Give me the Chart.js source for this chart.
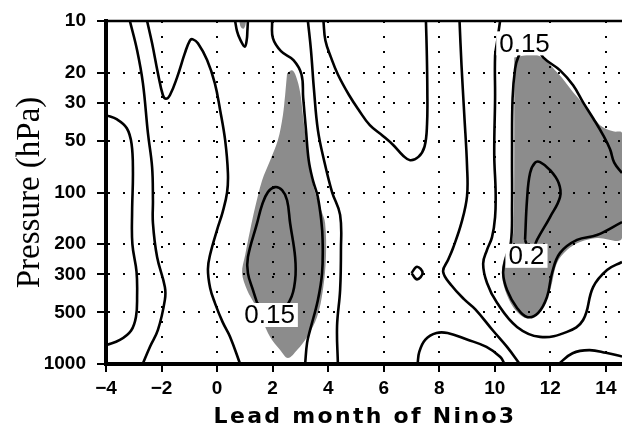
<!DOCTYPE html>
<html>
<head>
<meta charset="utf-8">
<script src="https://cdn.jsdelivr.net/npm/chart.js@4.4.1/dist/chart.umd.min.js"></script>
<style>
  html, body { margin: 0; padding: 0; background: #fff; }
  #wrap { width: 622px; height: 427px; }
</style>
</head>
<body>
<div id="wrap"><canvas id="chart"></canvas></div>
<script>
/* ---------- axes ---------- */
const xTicks = [-4, -2, 0, 2, 4, 6, 8, 10, 12, 14];
const yTicks = [10, 20, 30, 50, 100, 200, 300, 500, 1000];

/* ---------- contour lines, [lead month, hPa] ---------- */
const lineA = [[-4,35.4],[-3.6,37.5],[-3.25,42.2],[-3.08,52],[-3.03,76],[-3.06,130],[-3.05,200],[-2.9,290],[-2.88,400],[-2.92,530],[-3.1,640],[-3.5,724],[-4,776]];
const lineB = [[-3.14,10],[-2.88,14.8],[-2.67,23.1],[-2.49,45.1],[-2.34,71.1],[-2.31,110.7],[-2.31,150.8],[-2.16,237.9],[-1.88,355.6],[-1.88,423],[-2.13,633],[-2.42,795],[-2.68,1000]];
const lineC = [[-2.52,10],[-2.34,13.5],[-2.13,20.2],[-1.95,27.1],[-1.84,28.4],[-1.7,27.1],[-1.44,21.3],[-1.16,15.4],[-0.98,13],[-0.87,12.8],[-0.69,13.5],[-0.36,16.9],[-0.08,23.1],[0.11,33.1],[0.29,49.5],[0.39,77.1],[0.36,100],[0.2,130],[0,165],[-0.25,230],[-0.33,280],[-0.25,360],[-0.08,440],[0.2,570],[0.47,695],[0.83,1000]];
const lineD = [[0.65,10],[0.72,11.5],[0.83,12.8],[1.0,14.1],[1.07,12.8],[1.09,11.5],[1.11,10]];
const lineE = [[1.98,10],[2.01,12.6],[2.3,15],[2.75,16.9],[3.04,20.5],[3.1,28],[3.2,43],[3.3,65],[3.45,85],[3.62,105],[3.75,145],[3.8,190],[3.78,295],[3.63,423],[3.35,633],[3.24,753],[3.17,1000]];
const lineF = [[3.27,10],[3.38,14.8],[3.49,25.3],[3.63,43.3],[3.85,64.8],[4.14,99.5],[4.43,135],[4.46,216.6],[4.43,370],[4.32,600],[4.35,1000]];
const lineH = [[3.83,10],[3.9,13],[4.1,16.3],[4.35,20.5],[4.75,27],[5.1,33],[5.5,40.5],[5.95,46.5],[6.35,53],[6.7,61],[6.95,64.8],[7.25,62],[7.47,54],[7.56,40],[7.57,25],[7.55,15],[7.52,10]];
const lineI = [[8.73,10],[8.8,18],[8.9,35],[9.0,70],[9.0,105],[8.8,150],[8.5,210],[8.32,247],[8.14,290],[8.45,350],[8.9,420],[9.3,480],[9.94,640],[10.44,795],[10.9,1000]];
const lineJ = [[10.19,10],[10.08,13.3],[10.01,16],[10.01,28],[9.98,60],[10.03,100],[10.01,139],[9.9,182],[9.72,216],[9.58,260],[9.72,337],[10.08,440],[10.8,608],[11.63,695],[12.6,650],[13.18,554],[13.54,356],[14.04,283],[14.58,254]];
const lineM = [[7.22,1000],[7.28,850],[7.5,720],[7.9,660],[8.3,660],[9.0,720],[9.7,795],[10.2,910],[10.35,1000]];
const lineN = [[12.3,1000],[12.8,865],[13.4,830],[14.0,860],[14.58,905]];
const loopSmall = [[7.0,295],[7.2,271],[7.4,295],[7.2,321],[7.0,295]];
const line15R = [[14.58,148.7],[13.68,177],[12.96,189],[12.35,225],[12.06,295],[11.88,407],[11.56,504],[11.16,532],[10.8,471],[10.44,370],[10.3,295],[10.4,240],[10.58,195],[10.62,120],[10.62,60],[10.64,28.2],[10.73,19],[10.84,16.3],[11.1,14],[11.5,14],[11.74,16.3],[12.35,19.4],[12.82,23.7],[13.18,29.8],[13.54,36.9],[13.9,46.3],[14.15,56],[14.3,67],[14.58,77]];
const loop20R = [[11.09,189],[11.16,110],[11.27,77],[11.45,67],[11.63,66.5],[11.99,74],[12.3,88],[12.35,106],[11.99,139],[11.52,189],[11.3,228],[11.09,189]];
const loop20A = [[1.44,440],[1.29,370],[1.11,295],[1.11,238],[1.44,151],[1.62,118],[1.83,99.5],[2.09,93],[2.34,97],[2.52,111],[2.63,151],[2.81,238],[2.81,324],[2.63,423],[2.1,530],[1.44,440]];

/* ---------- shaded (significant) areas ---------- */
const shadeA = [[2.52,20.2],[2.7,19.4],[2.84,21],[2.99,26],[3.09,35.4],[3.24,55.1],[3.35,76],[3.53,100],[3.75,127],[3.89,151],[3.92,238],[3.81,370],[3.6,532],[3.24,695],[2.88,828],[2.55,922],[2.27,828],[1.91,695],[1.62,554],[1.37,453],[1.08,370],[0.9,295],[1.01,232],[1.19,166],[1.37,122],[1.62,85],[1.91,65],[2.19,49.5],[2.37,35.4],[2.45,27.1]];
const shadeR = [[10.7,16.3],[11.52,15.8],[12.24,19.9],[12.82,26],[13.32,32.2],[13.79,40.5],[14.26,44],[14.58,45.1],[14.58,184.4],[13.68,184.4],[13.07,194.6],[12.6,216.6],[12.24,257.8],[11.99,370],[11.63,484],[11.27,539],[11.02,532],[10.66,465],[10.37,370],[10.26,295],[10.37,231.5],[10.6,202.6],[10.68,144.8],[10.7,56.6],[10.7,22.1]];
const shadeTiny = [[0.8,10],[0.85,10.8],[0.95,11.1],[1.02,10.6],[1.04,10]];

/* ---------- contour labels ---------- */
const labelText  = ['0.15', '0.15', '0.2'];
const labelMonth = [1.89, 11.07, 11.14];
const labelHpa   = [518, 13.5, 234];

const pts = arr => arr.map(([x, y]) => ({ x, y }));

const contourSets = [lineA, lineB, lineC, lineD, lineE, lineF, lineH, lineI, lineJ,
                     lineM, lineN, loopSmall, line15R, loop20R, loop20A];
const shadeSets = [shadeA, shadeR, shadeTiny];

const datasets = [
  ...contourSets.map(c => ({
    data: pts(c),
    borderColor: '#000',
    borderWidth: 2.6,
    tension: 0.4,
    pointRadius: 0,
    fill: false,
    order: 1
  })),
  ...shadeSets.map(s => ({
    data: pts(s),
    borderColor: 'rgba(0,0,0,0)',
    backgroundColor: '#8c8c8c',
    borderWidth: 0,
    tension: 0.35,
    pointRadius: 0,
    fill: 'shape',
    order: 2
  }))
];

/* ---------- frame top, labels, x title ---------- */
const extras = {
  id: 'extras',
  afterDraw(chart) {
    const { ctx, chartArea: a, scales } = chart;
    ctx.save();
    ctx.strokeStyle = '#000';
    ctx.lineWidth = 2.5;
    ctx.beginPath();
    ctx.moveTo(a.left, a.top);
    ctx.lineTo(a.right, a.top);
    ctx.stroke();

    ctx.font = '26px "Liberation Sans", Arial, sans-serif';
    ctx.textAlign = 'center';
    ctx.textBaseline = 'middle';
    labelText.forEach((t, i) => {
      const x = scales.x.getPixelForValue(labelMonth[i]);
      const y = scales.y.getPixelForValue(labelHpa[i]);
      const w = ctx.measureText(t).width + 6;
      ctx.fillStyle = '#fff';
      ctx.fillRect(x - w / 2, y - 12, w, 24);
      ctx.fillStyle = '#000';
      ctx.fillText(t, x, y + 1);
    });

    // axis title, spaced like the original
    ctx.font = 'bold 22px "DejaVu Sans", sans-serif';
    ctx.letterSpacing = '2.3px';
    ctx.textBaseline = 'alphabetic';
    ctx.fillText('Lead month of Nino3', (a.left + a.right) / 2 + 1, a.bottom + 59);
    ctx.restore();
  }
};

const tickFont = { family: '"Liberation Sans", Arial, sans-serif', size: 19, weight: 'bold' };

new Chart(document.getElementById('chart'), {
  type: 'line',
  data: { datasets },
  options: {
    responsive: true,
    maintainAspectRatio: false,
    animation: false,
    events: [],
    layout: { padding: { top: 21, left: 0, right: 0, bottom: 0 } },
    plugins: { legend: { display: false }, tooltip: { enabled: false } },
    scales: {
      x: {
        type: 'linear',
        min: -4,
        max: 14.58,
        afterBuildTicks: s => { s.ticks = xTicks.map(v => ({ value: v })); },
        afterFit: s => { s.height = 63; s.paddingLeft = 0; s.paddingRight = 0; },
        ticks: {
          autoSkip: false, maxRotation: 0, padding: 5, color: '#000', font: tickFont,
          callback: v => v < 0 ? '\u2212' + Math.abs(v) : String(v)
        },
        grid: { color: '#000', lineWidth: 2, z: 1, tickLength: 8, tickColor: '#000', tickWidth: 2, tickBorderDash: [] },
        border: { color: '#000', width: 4, dash: [2, 13], z: 2 }
      },
      y: {
        type: 'logarithmic',
        reverse: true,
        min: 10,
        max: 1000,
        afterBuildTicks: s => { s.ticks = yTicks.map(v => ({ value: v })); },
        afterFit: s => { s.width = 106; s.paddingTop = 0; s.paddingBottom = 0; },
        ticks: { autoSkip: false, padding: 11, color: '#000', font: tickFont, callback: v => String(v) },
        grid: { color: '#000', lineWidth: 2, z: 1, tickLength: 9, tickColor: '#000', tickWidth: 2, tickBorderDash: [] },
        border: { color: '#000', width: 4, dash: [2, 13], z: 2 },
        title: {
          display: true,
          text: 'Pressure (hPa)',
          color: '#000',
          font: { family: '"Liberation Serif", "Times New Roman", serif', size: 33, lineHeight: 1.2 },
          padding: { top: 11, bottom: 0 }
        }
      }
    }
  },
  plugins: [extras]
});
</script>
</body>
</html>
